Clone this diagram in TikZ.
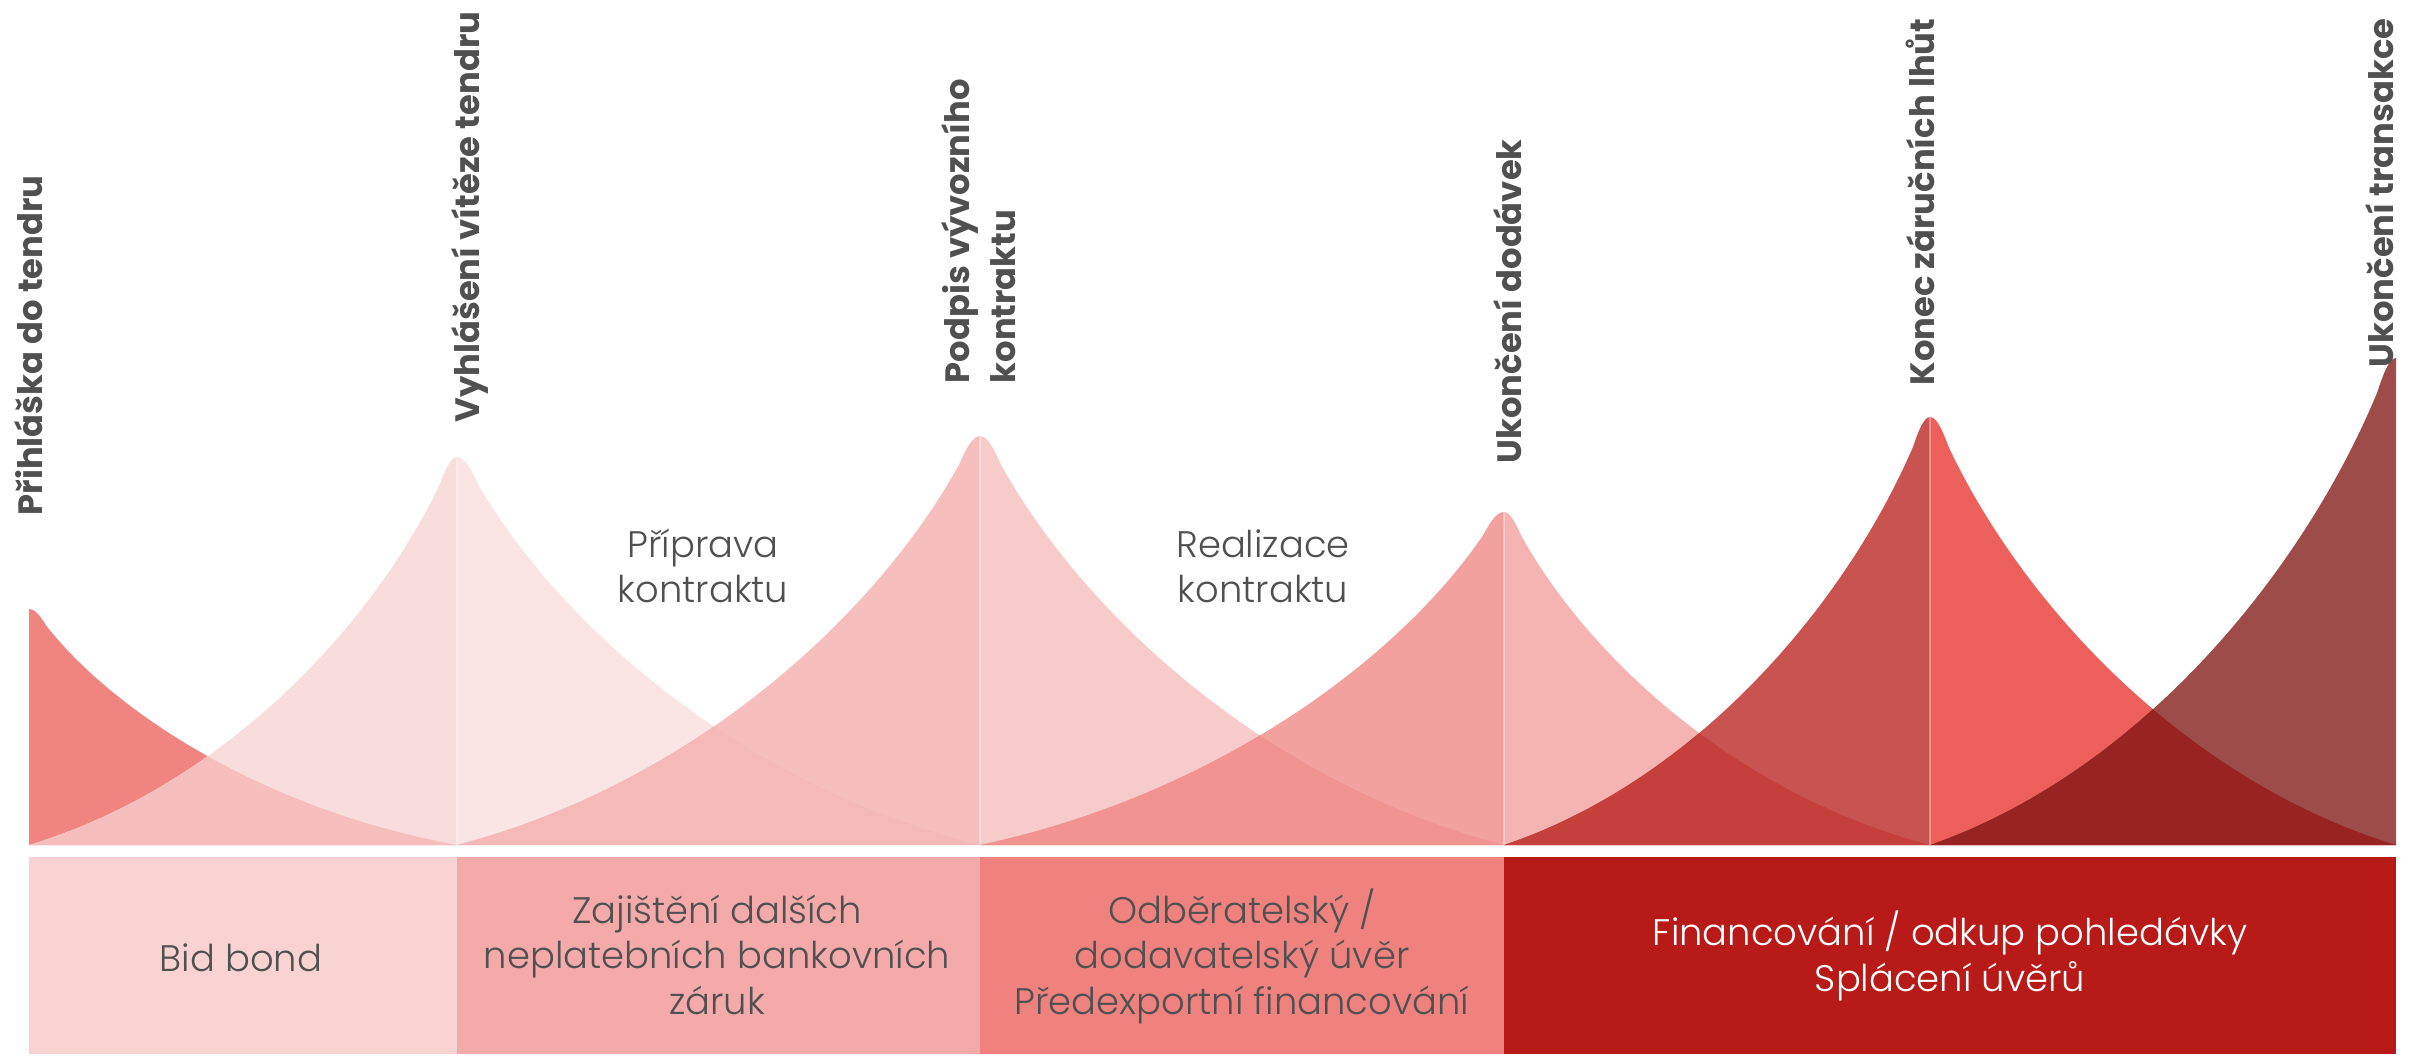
\documentclass[tikz,border=0pt]{standalone}
\usepackage{fontspec}
\setmainfont{Poppins}[UprightFont=* Light, BoldFont=* Bold]
\usetikzlibrary{positioning}
\usetikzlibrary{calc}

\definecolor{textgray}{HTML}{505050}
\definecolor{peakA}{HTML}{F08480}
\definecolor{peakBl}{HTML}{F9DCDC}
\definecolor{peakBr}{HTML}{FAE4E4}
\definecolor{peakCl}{HTML}{F6BEBD}
\definecolor{peakCr}{HTML}{F8CBCB}
\definecolor{peakDl}{HTML}{F2A19E}
\definecolor{peakDr}{HTML}{F5B3B2}
\definecolor{peakEl}{HTML}{C85350}
\definecolor{peakEr}{HTML}{EC5F5A}
\definecolor{peakFl}{HTML}{9E4C4A}
\definecolor{overAB}{HTML}{F6BFBE}
\definecolor{overBC}{HTML}{F5B9B8}
\definecolor{overCD}{HTML}{F19391}
\definecolor{overDE}{HTML}{C5403C}
\definecolor{overEF}{HTML}{972322}
\definecolor{boxA}{HTML}{F8D3D2}
\definecolor{boxB}{HTML}{F3AAA9}
\definecolor{boxC}{HTML}{EF827E}
\definecolor{boxD}{HTML}{B71A17}

% half of a peak: apex x, height, signed width
\newcommand{\peakhalf}[3]{(#1,845) -- (#1,{845-#2}) .. controls ({#1+0.015*(#3)},{845-#2}) and ({#1+0.028*(#3)},{845-0.965*#2}) .. ({#1+0.04*(#3)},{845-0.93*#2}) .. controls ({#1+0.2*(#3)},{845-0.56*#2}) and ({#1+0.55*(#3)},{845-0.15*#2}) .. ({#1+(#3)},845) -- cycle}

\begin{document}
\begin{tikzpicture}
			[
				x = 0.01cm, y = -0.01cm,
				mymilestone/.style = {rotate = 90, anchor = base west, align = left, inner sep = 0pt, text = textgray, font = \bfseries\fontsize{9.6}{12.8}\selectfont},
				myphase/.style = {anchor = base, align = center, inner sep = 0pt, text = textgray, font = \fontsize{10.5}{12.8}\selectfont},
				myproduct/.style = {myphase},
				mydivider/.style = {white, opacity = 0.35, line width = 0.5pt}
			]
			\useasboundingbox (0,0) rectangle (2423,1058);
			%
			\fill [peakA] \peakhalf{29}{236}{428};
			\fill [peakBl] \peakhalf{457}{388}{-428};
			\fill [peakBr] \peakhalf{457}{388}{523};
			\fill [peakCl] \peakhalf{980}{409}{-523};
			\fill [peakCr] \peakhalf{980}{409}{524};
			\fill [peakDl] \peakhalf{1504}{333}{-524};
			\fill [peakDr] \peakhalf{1504}{333}{426};
			\fill [peakEl] \peakhalf{1930}{428}{-426};
			\fill [peakEr] \peakhalf{1930}{428}{466};
			\fill [peakFl] \peakhalf{2396}{487}{-466};
			%
			\begin{scope}
				\clip \peakhalf{29}{236}{428};
				\fill [overAB] \peakhalf{457}{388}{-428};
			\end{scope}
			\begin{scope}
				\clip \peakhalf{457}{388}{523};
				\fill [overBC] \peakhalf{980}{409}{-523};
			\end{scope}
			\begin{scope}
				\clip \peakhalf{980}{409}{524};
				\fill [overCD] \peakhalf{1504}{333}{-524};
			\end{scope}
			\begin{scope}
				\clip \peakhalf{1504}{333}{426};
				\fill [overDE] \peakhalf{1930}{428}{-426};
			\end{scope}
			\begin{scope}
				\clip \peakhalf{1930}{428}{466};
				\fill [overEF] \peakhalf{2396}{487}{-466};
			\end{scope}
			%
			\draw [mydivider] (457,845) -- (457,457);
			\draw [mydivider] (980,845) -- (980,436);
			\draw [mydivider] (1504,845) -- (1504,512);
			\draw [mydivider] (1930,845) -- (1930,417);
			%
			\fill [boxA] (29,857) rectangle (457,1054);
			\fill [boxB] (457,857) rectangle (980,1054);
			\fill [boxC] (980,857) rectangle (1504,1054);
			\fill [boxD] (1504,857) rectangle (2396,1054);
			%
			\node (tender) [mymilestone] at (42,516) {Přihláška do tendru};
			\node (winner) [mymilestone] at (479,423) {Vyhlášení vítěze tendru};
			\node (signing) [mymilestone] at (1015,384) {Podpis vývozního\\kontraktu};
			\node (delivery) [mymilestone] at (1521,464) {Ukončení dodávek};
			\node (warranty) [mymilestone] at (1934,386) {Konec záručních lhůt};
			\node (closing) [mymilestone] at (2393,368) {Ukončení transakce};
			%
			\node (preparation) [myphase] at (703,603) {Příprava\\kontraktu};
			\node (realization) [myphase] at (1263,603) {Realizace\\kontraktu};
			%
			\node (bidbond) [myproduct] at (241,971) {Bid bond};
			\node (guarantees) [myproduct] at (717,1014) {Zajištění dalších\\neplatebních bankovních\\záruk};
			\node (credit) [myproduct] at (1242,1014) {Odběratelský /\\dodavatelský úvěr\\Předexportní financování};
			\node (financing) [myproduct, text = white] at (1950,991) {Financování / odkup pohledávky\\Splácení úvěrů};
			%
		\end{tikzpicture}
\end{document}
